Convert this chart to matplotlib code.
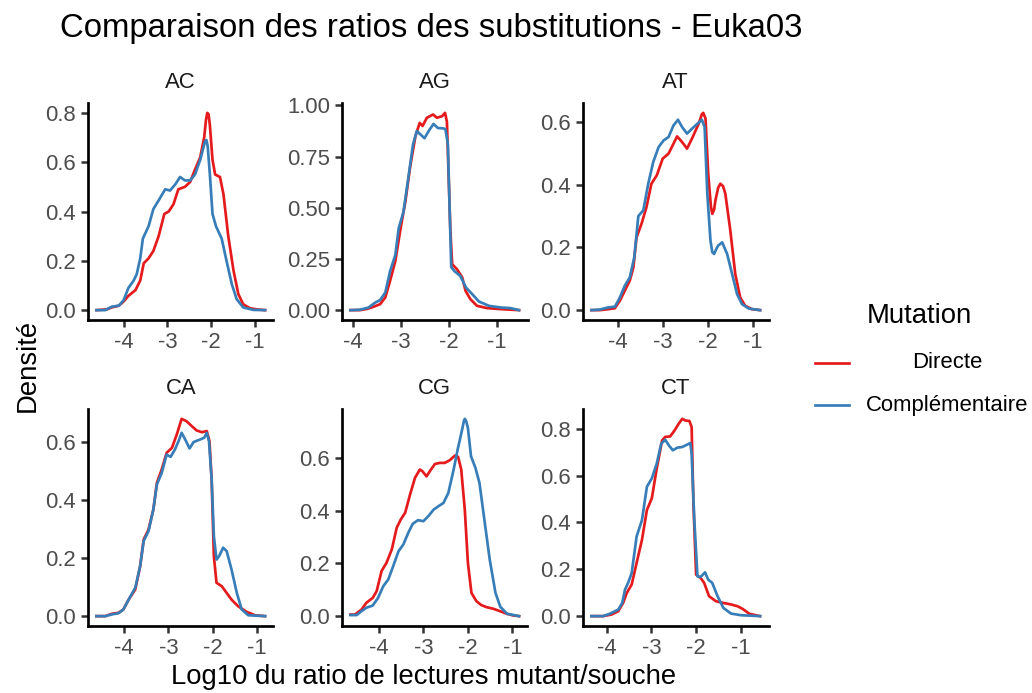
import matplotlib
matplotlib.use('Agg')
import matplotlib.pyplot as plt
from matplotlib.lines import Line2D

plt.rcParams['font.family'] = ['Liberation Sans', 'DejaVu Sans']

# densities (x = log10 ratio, y = density)
panels = ['AC', 'AG', 'AT', 'CA', 'CG', 'CT']
series = ['Directe', 'Complémentaire']
colors = ['#E41A1C', '#377EB8']

ac_x_dir = [-4.62, -4.38, -4.27, -4.11, -4.0, -3.89, -3.73, -3.62, -3.54, -3.43, -3.32, -3.20, -3.07, -2.97, -2.86, -2.75,
            -2.60, -2.48, -2.37, -2.25, -2.16, -2.12, -2.09, -2.06, -2.03, -1.97, -1.91, -1.80, -1.72, -1.61, -1.49, -1.38,
            -1.27, -1.12, -0.96, -0.77]
ac_y_dir = [0.0, 0.003, 0.011, 0.018, 0.035, 0.058, 0.081, 0.12, 0.19, 0.21, 0.24, 0.30, 0.39, 0.40, 0.43, 0.49,
            0.50, 0.52, 0.57, 0.62, 0.70, 0.77, 0.80, 0.795, 0.75, 0.61, 0.55, 0.54, 0.47, 0.30, 0.16, 0.065,
            0.024, 0.008, 0.003, 0.0]
ac_x_comp = [-4.62, -4.42, -4.27, -4.11, -4.0, -3.89, -3.77, -3.70, -3.62, -3.56, -3.43, -3.32, -3.20, -3.05, -2.94, -2.82,
             -2.71, -2.60, -2.48, -2.37, -2.25, -2.14, -2.11, -2.08, -2.03, -1.97, -1.89, -1.76, -1.65, -1.53, -1.42, -1.27,
             -1.04, -0.77]
ac_y_comp = [0.0, 0.0, 0.014, 0.018, 0.04, 0.09, 0.12, 0.146, 0.21, 0.29, 0.34, 0.41, 0.445, 0.49, 0.485, 0.51,
             0.54, 0.526, 0.526, 0.55, 0.61, 0.685, 0.69, 0.665, 0.55, 0.39, 0.34, 0.29, 0.20, 0.106, 0.045, 0.011,
             0.001, 0.0]

ag_x_dir = [-4.06, -3.86, -3.71, -3.58, -3.44, -3.33, -3.23, -3.12, -3.01, -2.91, -2.81, -2.70, -2.61, -2.55, -2.46, -2.33,
            -2.25, -2.14, -2.08, -2.04, -1.97, -1.93, -1.83, -1.72, -1.65, -1.55, -1.41, -1.20, -0.92, -0.53]
ag_y_dir = [0.0, 0.0, 0.006, 0.016, 0.029, 0.062, 0.143, 0.24, 0.40, 0.53, 0.70, 0.85, 0.915, 0.90, 0.94, 0.956,
            0.94, 0.948, 0.964, 0.92, 0.40, 0.224, 0.20, 0.16, 0.094, 0.054, 0.021, 0.010, 0.005, 0.0]
ag_x_comp = [-4.06, -3.86, -3.68, -3.54, -3.44, -3.33, -3.23, -3.12, -3.05, -2.95, -2.84, -2.75, -2.67, -2.60, -2.51, -2.41,
             -2.32, -2.23, -2.11, -2.07, -2.02, -1.95, -1.88, -1.76, -1.64, -1.51, -1.37, -1.16, -0.92, -0.71, -0.53]
ag_y_comp = [0.0, 0.002, 0.013, 0.037, 0.049, 0.086, 0.19, 0.27, 0.40, 0.48, 0.66, 0.81, 0.875, 0.86, 0.84, 0.88,
             0.91, 0.89, 0.888, 0.883, 0.81, 0.21, 0.19, 0.167, 0.11, 0.078, 0.042, 0.021, 0.013, 0.010, 0.0]

at_x_dir = [-4.58, -4.39, -4.21, -4.06, -3.95, -3.84, -3.73, -3.65, -3.58, -3.47, -3.36, -3.25, -3.13, -3.0, -2.87, -2.78,
            -2.68, -2.57, -2.46, -2.35, -2.20, -2.13, -2.10, -2.05, -1.99, -1.93, -1.90, -1.86, -1.83, -1.77, -1.72, -1.66,
            -1.61, -1.50, -1.39, -1.28, -1.17, -1.02, -0.84]
at_y_dir = [0.0, 0.0, 0.003, 0.006, 0.030, 0.062, 0.094, 0.136, 0.232, 0.275, 0.328, 0.403, 0.43, 0.483, 0.499, 0.525,
            0.554, 0.536, 0.515, 0.547, 0.595, 0.625, 0.629, 0.611, 0.435, 0.33, 0.307, 0.32, 0.35, 0.39, 0.403, 0.395,
            0.371, 0.254, 0.115, 0.040, 0.014, 0.003, 0.0]
at_x_comp = [-4.58, -4.39, -4.21, -4.06, -3.95, -3.84, -3.73, -3.63, -3.54, -3.43, -3.32, -3.21, -3.09, -2.98, -2.87, -2.76,
             -2.66, -2.57, -2.46, -2.31, -2.13, -2.07, -2.01, -1.94, -1.90, -1.86, -1.81, -1.77, -1.68, -1.57, -1.46, -1.35,
             -1.24, -1.09, -0.84]
at_y_comp = [0.0, 0.002, 0.0085, 0.011, 0.04, 0.078, 0.104, 0.168, 0.30, 0.318, 0.403, 0.472, 0.52, 0.541, 0.552, 0.589,
             0.607, 0.584, 0.563, 0.584, 0.607, 0.584, 0.371, 0.222, 0.185, 0.179, 0.195, 0.206, 0.216, 0.179, 0.115, 0.051,
             0.019, 0.005, 0.0]

ca_x_dir = [-4.63, -4.43, -4.28, -4.13, -4.02, -3.90, -3.75, -3.64, -3.56, -3.45, -3.34, -3.26, -3.15, -3.04, -2.92, -2.81,
            -2.70, -2.59, -2.47, -2.36, -2.24, -2.13, -2.07, -2.02, -1.97, -1.91, -1.79, -1.68, -1.57, -1.42, -1.23, -1.04,
            -0.81]
ca_y_dir = [0.0, 0.0, 0.008, 0.0115, 0.023, 0.057, 0.092, 0.172, 0.264, 0.299, 0.368, 0.46, 0.506, 0.563, 0.58, 0.626,
            0.68, 0.672, 0.655, 0.64, 0.634, 0.638, 0.603, 0.471, 0.207, 0.115, 0.103, 0.080, 0.057, 0.034, 0.015, 0.003,
            0.0]
ca_x_comp = [-4.63, -4.43, -4.28, -4.13, -4.02, -3.90, -3.75, -3.64, -3.56, -3.45, -3.34, -3.26, -3.15, -3.04, -2.95, -2.85,
             -2.77, -2.70, -2.62, -2.52, -2.43, -2.28, -2.19, -2.13, -2.08, -2.02, -1.97, -1.91, -1.85, -1.76, -1.68, -1.57,
             -1.45, -1.34, -1.19, -0.81]
ca_y_comp = [0.0, 0.0, 0.006, 0.010, 0.023, 0.057, 0.098, 0.172, 0.259, 0.293, 0.368, 0.454, 0.494, 0.557, 0.549, 0.575,
             0.603, 0.632, 0.609, 0.578, 0.60, 0.609, 0.615, 0.632, 0.603, 0.471, 0.276, 0.195, 0.207, 0.236, 0.224, 0.161,
             0.080, 0.023, 0.003, 0.0]

cg_x_dir = [-4.64, -4.54, -4.39, -4.28, -4.14, -4.05, -3.94, -3.83, -3.71, -3.60, -3.51, -3.41, -3.30, -3.19, -3.08, -3.02,
            -2.93, -2.83, -2.74, -2.63, -2.52, -2.41, -2.29, -2.22, -2.15, -2.07, -2.0, -1.92, -1.81, -1.70, -1.58, -1.43,
            -1.28, -1.13, -0.98, -0.85]
cg_y_dir = [0.006, 0.006, 0.025, 0.051, 0.069, 0.095, 0.171, 0.202, 0.253, 0.335, 0.366, 0.392, 0.461, 0.524, 0.556, 0.549,
            0.53, 0.556, 0.577, 0.581, 0.581, 0.591, 0.609, 0.604, 0.556, 0.404, 0.202, 0.088, 0.057, 0.042, 0.034, 0.028,
            0.019, 0.009, 0.0025, 0.0]
cg_x_comp = [-4.64, -4.50, -4.39, -4.28, -4.14, -4.02, -3.90, -3.79, -3.68, -3.56, -3.45, -3.34, -3.24, -3.12, -3.0, -2.89,
             -2.77, -2.66, -2.55, -2.44, -2.32, -2.23, -2.13, -2.09, -2.07, -2.04, -2.0, -1.93, -1.83, -1.74, -1.63, -1.51,
             -1.38, -1.27, -1.12, -0.85]
cg_y_comp = [0.004, 0.004, 0.019, 0.032, 0.040, 0.069, 0.114, 0.139, 0.189, 0.246, 0.272, 0.316, 0.35, 0.364, 0.36, 0.379,
             0.404, 0.417, 0.429, 0.467, 0.556, 0.632, 0.707, 0.74, 0.748, 0.74, 0.714, 0.606, 0.562, 0.505, 0.366, 0.215,
             0.088, 0.035, 0.009, 0.0]

ct_x_dir = [-4.34, -4.08, -3.89, -3.74, -3.63, -3.55, -3.44, -3.33, -3.21, -3.10, -2.99, -2.88, -2.76, -2.69, -2.58, -2.48,
            -2.39, -2.31, -2.24, -2.15, -2.10, -2.06, -2.0, -1.90, -1.82, -1.71, -1.56, -1.41, -1.22, -1.07, -0.96, -0.81,
            -0.57]
ct_y_dir = [0.0, 0.0, 0.007, 0.021, 0.057, 0.099, 0.135, 0.227, 0.326, 0.453, 0.503, 0.63, 0.75, 0.765, 0.767, 0.793,
            0.821, 0.842, 0.835, 0.833, 0.807, 0.48, 0.177, 0.163, 0.142, 0.085, 0.064, 0.057, 0.050, 0.042, 0.031, 0.010,
            0.0]
ct_x_comp = [-4.34, -4.08, -3.93, -3.74, -3.65, -3.59, -3.52, -3.44, -3.33, -3.21, -3.10, -2.99, -2.88, -2.78, -2.69, -2.61,
             -2.52, -2.42, -2.31, -2.19, -2.13, -2.10, -2.04, -1.97, -1.90, -1.80, -1.73, -1.64, -1.52, -1.39, -1.22, -1.0,
             -0.57]
ct_y_comp = [0.0, 0.0, 0.010, 0.028, 0.057, 0.113, 0.142, 0.184, 0.34, 0.41, 0.552, 0.588, 0.651, 0.736, 0.753, 0.729,
             0.708, 0.719, 0.722, 0.733, 0.739, 0.694, 0.41, 0.170, 0.167, 0.187, 0.156, 0.142, 0.085, 0.035, 0.011, 0.004,
             0.0]

x_ticks = [-4, -3, -2, -1]
x_tick_labels = ['-4', '-3', '-2', '-1']
y_ticks_02 = [0.0, 0.2, 0.4, 0.6, 0.8]
y_ticks_025 = [0.0, 0.25, 0.50, 0.75, 1.00]

data = {
    'AC': (ac_x_dir, ac_y_dir, ac_x_comp, ac_y_comp),
    'AG': (ag_x_dir, ag_y_dir, ag_x_comp, ag_y_comp),
    'AT': (at_x_dir, at_y_dir, at_x_comp, at_y_comp),
    'CA': (ca_x_dir, ca_y_dir, ca_x_comp, ca_y_comp),
    'CG': (cg_x_dir, cg_y_dir, cg_x_comp, cg_y_comp),
    'CT': (ct_x_dir, ct_y_dir, ct_x_comp, ct_y_comp),
}

W, H = 1032, 693
fig = plt.figure(figsize=(W / 150, H / 150), dpi=150)

col_left = [88, 342, 583]   # pixel positions of panels
row_top = [103, 409]
pw, ph = 185.5, 217

for i, name in enumerate(panels):
    r, c = divmod(i, 3)
    ax = fig.add_axes([col_left[c] / W, 1 - (row_top[r] + ph) / H, pw / W, ph / H])
    xd, yd, xc, yc = data[name]
    ax.plot(xd, yd, color=colors[0], lw=1.3, solid_joinstyle='round')
    ax.plot(xc, yc, color=colors[1], lw=1.3, solid_joinstyle='round')
    ax.margins(x=0.05, y=0.05)
    ax.set_xticks(x_ticks)
    ax.set_xticklabels(x_tick_labels)
    if name == 'AG':
        ax.set_yticks(y_ticks_025)
        ax.set_yticklabels([f'{v:.2f}' for v in y_ticks_025])
    else:
        top = max(max(yd), max(yc))
        yt = [v for v in y_ticks_02 if v <= top + 1e-9]
        ax.set_yticks(yt)
        ax.set_yticklabels([f'{v:.1f}' for v in yt])
    for s in ['top', 'right']:
        ax.spines[s].set_visible(False)
    for s in ['left', 'bottom']:
        ax.spines[s].set_linewidth(1.3)
        ax.spines[s].set_color('black')
    ax.tick_params(length=3.3, width=1.2, color='#333333', labelcolor='#4D4D4D',
                   labelsize=10.6, pad=2.5)
    ax.set_title(name, fontsize=10.6, color='#1A1A1A', pad=7)

fig.text(60 / W, 1 - 29 / H, 'Comparaison des ratios des substitutions - Euka03',
         fontsize=15.8, ha='left', va='center', color='black')
fig.text(28 / W, 1 - 365 / H, 'Densité', fontsize=13.2, rotation=90, ha='center', va='center')
fig.text(424 / W, 1 - 677 / H, 'Log10 du ratio de lectures mutant/souche', fontsize=13.2,
         ha='center', va='center')

# legend
fig.text(867 / W, 1 - 316 / H, 'Mutation', fontsize=13.2, ha='left', va='center')
for k, (lab, col) in enumerate(zip(series, colors)):
    yk = 1 - (363 + 42 * k) / H
    fig.add_artist(Line2D([815 / W, 849 / W], [yk, yk], color=col, lw=1.3))
    fig.text(947 / W, yk, lab, fontsize=10.6, ha='center', va='center')

plt.savefig('out.png', dpi=150)
